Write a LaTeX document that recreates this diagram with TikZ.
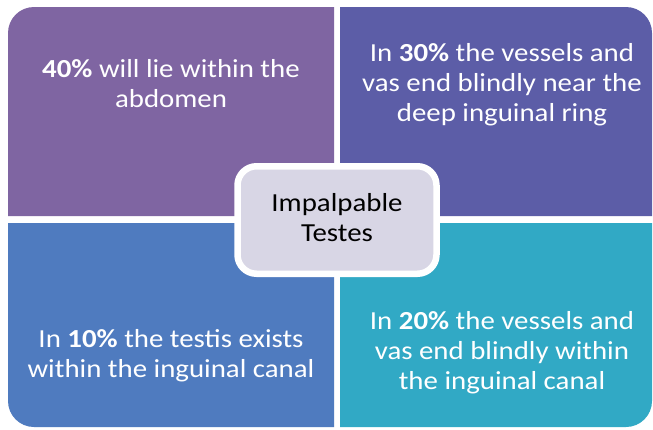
\documentclass[tikz,border=0pt]{standalone}
\usepackage{fontspec}
\setmainfont{Carlito}[FakeStretch=1.11]
\definecolor{cTL}{HTML}{7F65A2}
\definecolor{cTR}{HTML}{5C5DA7}
\definecolor{cBL}{HTML}{4F7BBF}
\definecolor{cBR}{HTML}{31A9C5}
\definecolor{cCtr}{HTML}{D8D6E5}
\begin{document}
\begin{tikzpicture}[x=1pt,y=-1pt,
  quadtext/.style={text=white, align=center, inner sep=0pt, font=\fontsize{26}{30}\selectfont},
  ctrbox/.style={draw=white, line width=6.5pt, fill=cCtr, rounded corners=19pt,
    minimum width=199pt, minimum height=107.5pt, inner sep=0pt, align=center,
    text=black, font=\fontsize{26}{30}\selectfont}]
\fill[white] (0,0) rectangle (653,429);
\path[use as bounding box] (0,0) rectangle (653,429);
% quadrants
\fill[cTL] (8,216) -- (8,33) arc[start angle=180, end angle=90, radius=26pt] -- (334,7) -- (334,216) -- cycle;
\fill[cTR] (340,7) -- (626,7) arc[start angle=90, end angle=0, radius=26pt] -- (652,216) -- (340,216) -- cycle;
\fill[cBR] (340,223) -- (652,223) -- (652,401) arc[start angle=0, end angle=-90, radius=26pt] -- (340,427) -- cycle;
\fill[cBL] (334,223) -- (334,427) -- (34,427) arc[start angle=270, end angle=180, radius=26pt] -- (8,401) -- (8,223) -- cycle;
% texts
\node[quadtext] (tl) at (171,86) {\strut\textbf{40\%} will lie within the\\\strut abdomen};
\node[quadtext] (tr) at (502,85) {\strut In \textbf{30\%} the vessels and\\\strut vas end blindly near the\\\strut deep inguinal ring};
\node[quadtext] (bl) at (171,356) {\strut In \textbf{10\%} the testis exists\\\strut within the inguinal canal};
\node[quadtext] (br) at (502,353) {\strut In \textbf{20\%} the vessels and\\\strut vas end blindly within\\\strut the inguinal canal};
% centre
\node[ctrbox] (ctr) at (337,220) {\strut Impalpable\\\strut Testes};
\end{tikzpicture}
\end{document}
